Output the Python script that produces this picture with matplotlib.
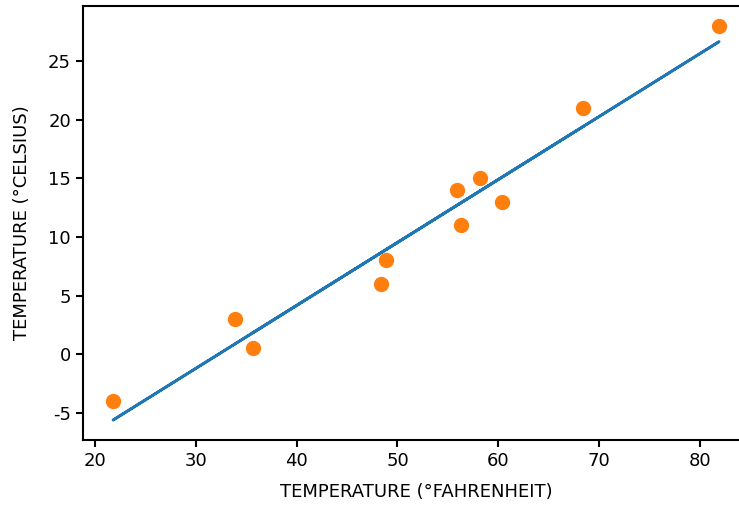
import numpy as np
import matplotlib
matplotlib.use("Agg")
import matplotlib.pyplot as plt

# measurements: unknown units vs celsius
t_u = [35.7, 55.9, 58.2, 81.9, 56.3, 48.9, 33.9, 21.8, 48.4, 60.4, 68.4]
t_c = [0.5, 14.0, 15.0, 28.0, 11.0, 8.0, 3.0, -4.0, 6.0, 13.0, 21.0]

t_u = np.array(t_u)
t_c = np.array(t_c)

# fitted linear model
w, b = np.polyfit(t_u, t_c, 1)
t_p = w * t_u + b

plt.rcParams['font.family'] = ['DejaVu Sans']
plt.rcParams['font.size'] = 13
plt.rcParams['axes.unicode_minus'] = False
plt.rcParams['axes.linewidth'] = 1.5
plt.rcParams['xtick.major.width'] = 1.5
plt.rcParams['ytick.major.width'] = 1.5
plt.rcParams['xtick.major.size'] = 5
plt.rcParams['ytick.major.size'] = 5

fig = plt.figure(figsize=(7.39, 5.08), dpi=100)
ax = fig.add_axes([0.1121, 0.1344, 0.902, 0.8535])

ax.plot(t_u, t_p, color='C0', linewidth=2)
ax.scatter(t_u, t_c, s=100, color='C1', zorder=3)

ax.set_xlabel('TEMPERATURE (°FAHRENHEIT)', labelpad=10)
ax.set_ylabel('TEMPERATURE (°CELSIUS)', labelpad=12)

fig.savefig('out.png', dpi=100)
